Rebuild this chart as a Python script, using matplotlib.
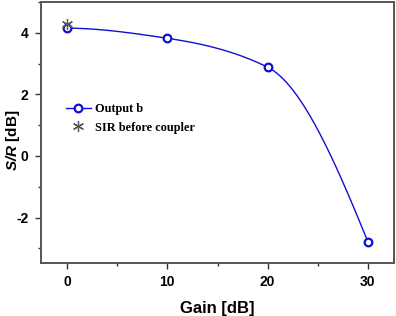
import numpy as np
import matplotlib.pyplot as plt
from matplotlib.ticker import MultipleLocator

plt.rcParams['axes.unicode_minus'] = False
plt.rcParams['mathtext.fontset'] = 'custom'
plt.rcParams['mathtext.bfit'] = 'Liberation Sans:italic:bold'

# data
gain = [0, 10, 20, 30]
sir_out_b = [4.15, 3.82, 2.88, -2.79]
gain_before = [0]
sir_before = [4.28]


def pchip(x, y, xs):
    # monotone cubic (Fritsch-Carlson) just to draw the smooth line
    x = np.asarray(x, float)
    y = np.asarray(y, float)
    h = np.diff(x)
    d = np.diff(y) / h
    m = np.zeros_like(y)
    for k in range(1, len(x) - 1):
        if d[k - 1] * d[k] > 0:
            w1 = 2 * h[k] + h[k - 1]
            w2 = h[k] + 2 * h[k - 1]
            m[k] = (w1 + w2) / (w1 / d[k - 1] + w2 / d[k])
    m[0] = ((2 * h[0] + h[1]) * d[0] - h[0] * d[1]) / (h[0] + h[1])
    if m[0] * d[0] <= 0:
        m[0] = 0
    m[-1] = ((2 * h[-1] + h[-2]) * d[-1] - h[-1] * d[-2]) / (h[-1] + h[-2])
    if m[-1] * d[-1] <= 0:
        m[-1] = 0
    i = np.clip(np.searchsorted(x, xs) - 1, 0, len(x) - 2)
    t = (xs - x[i]) / h[i]
    h00 = 2 * t**3 - 3 * t**2 + 1
    h10 = t**3 - 2 * t**2 + t
    h01 = -2 * t**3 + 3 * t**2
    h11 = t**3 - t**2
    return h00 * y[i] + h10 * h[i] * m[i] + h01 * y[i + 1] + h11 * h[i] * m[i + 1]


xs = np.linspace(gain[0], gain[-1], 300)
ys = pchip(gain, sir_out_b, xs)

fig = plt.figure(figsize=(3.96, 3.16), dpi=100)
ax = fig.add_axes([0.1035, 0.168, 0.8915, 0.826])

blue = '#1010d0'
ax.plot(xs, ys, color=blue, lw=1.0)
ax.plot(gain, sir_out_b, 'o', mfc='white', mec=blue, mew=1.6, ms=5.5)
star, = ax.plot(gain_before, sir_before, marker=(6, 2, 0), ls='none',
                color='#555555', ms=8, mew=0.9)

ax.set_xlim(-2.6, 32.6)
ax.set_ylim(-3.47, 5.0)
ax.xaxis.set_major_locator(MultipleLocator(10))
ax.xaxis.set_minor_locator(MultipleLocator(5))
ax.yaxis.set_major_locator(MultipleLocator(2))
ax.yaxis.set_minor_locator(MultipleLocator(1))

for s in ax.spines.values():
    s.set_color('#555555')
    s.set_linewidth(1.4)
ax.tick_params(which='both', direction='out', top=False, right=False,
               color='#333333', width=1.0)
ax.tick_params(which='major', length=4, labelsize=10, pad=5)
ax.tick_params(which='minor', length=2.5)
for lab in ax.get_xticklabels() + ax.get_yticklabels():
    lab.set_fontfamily('Liberation Sans')
    lab.set_fontweight('bold')

ax.set_xlabel('Gain [dB]', fontsize=12, fontweight='bold',
              fontfamily='Liberation Sans')
ax.xaxis.set_label_coords(0.5, -0.145)
ax.set_ylabel(r'$\mathbfit{S/R}$ [dB]', fontsize=11, fontweight='bold',
              fontfamily='Liberation Sans')
ax.yaxis.set_label_coords(-0.055, 0.47)

leg_line = plt.Line2D([], [], color=blue, lw=1.0, marker='o', mfc='white',
                      mec=blue, mew=1.6, ms=5.5)
ax.legend([leg_line, star], ['Output b', 'SIR before coupler'],
          loc='upper left', bbox_to_anchor=(0.04, 0.655), frameon=False,
          prop={'family': 'Liberation Serif', 'size': 8.8, 'weight': 'bold'},
          handlelength=2.0, handletextpad=0.4, labelspacing=0.55)

fig.savefig('out.png', dpi=100)
